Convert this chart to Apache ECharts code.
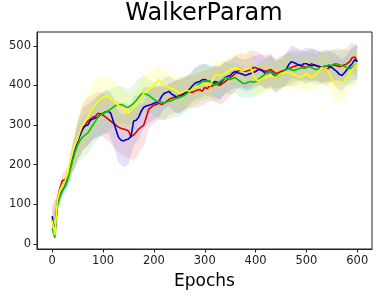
<!DOCTYPE html>
<html><head><meta charset="utf-8">
<script src="https://cdn.jsdelivr.net/npm/echarts@6/dist/echarts.min.js"></script>
<style>html,body{margin:0;padding:0;background:#fff}#c{width:382px;height:298px}</style>
</head><body><div id="c"></div>
<script>
const title = 'WalkerParam';
const xName = 'Epochs';
const xTicks = [0,100,200,300,400,500,600];
const yTicks = [0,100,200,300,400,500];
const seriesNames = ['red','blue','green','yellow'];

// mean curves, one value every 5 epochs (0..600)
const blueVals = [70,22,100,120,135,145,165,190,215,240,260,275,290,298,300,312,315,318,320,328,330,333,335,330,310,290,270,262,260,263,265,272,310,312,320,335,345,348,350,352,355,357,360,372,380,382,385,378,375,368,370,375,380,385,390,398,405,408,410,414,415,412,410,405,410,408,405,412,420,423,425,432,435,432,430,428,425,428,430,432,435,440,440,435,430,432,435,428,420,425,430,435,440,452,460,458,455,452,450,455,455,452,450,452,450,448,445,448,450,448,445,440,435,428,425,432,440,448,455,465,460];
const redVals = [60,28,110,140,160,162,170,195,220,242,260,280,295,300,310,315,320,322,330,328,325,320,315,310,305,300,295,292,290,288,285,270,275,282,290,295,300,320,340,345,350,352,355,352,355,360,365,368,370,372,375,378,380,383,385,382,385,388,390,385,395,392,400,398,405,402,400,405,410,415,420,425,430,436,440,438,435,438,440,445,445,442,440,438,435,438,440,435,430,432,435,438,440,443,445,448,450,452,450,447,445,450,455,452,450,447,445,442,440,445,450,452,450,448,450,452,455,460,470,472,460];
const greenVals = [40,15,95,120,135,145,160,185,210,232,250,262,270,275,280,290,300,310,320,326,330,332,335,340,345,350,350,352,350,345,345,350,355,362,370,378,380,378,375,370,365,360,360,358,355,358,360,362,365,368,370,372,375,380,385,390,395,400,405,410,410,412,410,405,400,405,410,415,420,418,415,418,420,415,410,405,405,408,410,408,410,415,420,425,430,432,435,430,425,428,430,435,440,442,440,438,440,442,445,443,445,448,445,442,440,442,445,448,450,452,450,455,455,452,450,448,445,443,445,450,455];
const yellowVals = [60,22,110,135,150,158,175,205,230,250,265,285,300,310,320,335,345,352,360,366,370,372,372,366,360,355,350,345,340,335,330,338,345,352,360,370,380,385,390,395,400,408,415,408,400,398,395,392,390,385,380,382,385,388,385,390,395,398,400,402,405,402,400,412,425,428,425,428,430,435,440,442,445,442,440,438,440,442,445,430,415,412,415,418,420,422,425,422,420,425,430,432,435,432,430,428,425,422,420,425,430,425,420,425,430,438,445,442,440,430,415,408,405,403,405,412,420,430,440,448,455];

// band half-widths, one value every 10 epochs (0..600)
const redSpread = [25,20,18,22,35,50,58,60,58,55,55,56,60,64,66,68,66,62,55,48,45,42,42,40,40,44,42,40,42,44,42,40,44,48,50,46,44,42,44,48,42,40,42,40,38,40,42,44,40,38,42,40,38,40,42,40,38,40,40,40,38];
const blueSpread = [28,20,18,22,35,48,55,52,50,52,52,55,60,64,66,66,62,56,50,46,42,40,40,38,40,42,40,38,40,42,40,38,40,42,40,38,40,38,40,42,40,38,40,42,40,38,40,42,40,38,40,42,40,38,40,38,42,40,38,42,45];
const greenSpread = [25,18,16,20,32,45,52,52,52,55,55,52,50,48,46,45,46,48,45,42,42,40,42,44,46,48,46,44,45,46,45,42,44,42,40,40,38,40,38,40,38,40,38,40,40,38,40,42,40,38,40,38,40,42,40,38,40,42,44,45,48];
const yellowSpread = [25,20,18,22,38,55,62,62,60,58,55,55,52,50,48,45,42,40,42,44,42,38,36,38,40,40,38,36,38,38,36,35,36,38,36,35,36,38,40,36,35,36,38,36,35,36,38,36,35,36,38,36,35,38,40,45,48,48,44,40,38];

const lineColors = ['#dd0000','#0000d0','#00c800','#ffff00'];
const bandColors = ['rgba(221,0,0,0.11)','rgba(0,0,208,0.11)','rgba(0,200,0,0.11)','rgba(255,255,0,0.15)'];

const vals = [redVals, blueVals, greenVals, yellowVals];
const spreads = [redSpread, blueSpread, greenSpread, yellowSpread];
const epochs = blueVals.map((_, i) => i * 5);

function bandSeries(k) {
  const m = vals[k], s = spreads[k];
  const up = [], lo = [];
  for (let j = 0; j < s.length; j++) {
    const e = j * 10, v = m[j * 2];
    up.push([e, v + s[j]]);
    lo.push([e, v - s[j]]);
  }
  return {
    type: 'custom', silent: true, z: 1,
    data: [0],
    renderItem: function (params, api) {
      const pts = up.concat(lo.slice().reverse()).map(p => api.coord(p));
      return { type: 'polygon', shape: { points: pts }, style: { fill: bandColors[k], stroke: null } };
    }
  };
}

const series = [];
for (let k = 0; k < 4; k++) series.push(bandSeries(k));
for (let k = 0; k < 4; k++) {
  series.push({
    type: 'line', name: seriesNames[k], z: 3 + k, showSymbol: false, animation: false,
    data: vals[k].map((v, i) => [epochs[i], v]),
    lineStyle: { color: lineColors[k], width: 1.6 }
  });
}

const chart = echarts.init(document.getElementById('c'));
chart.setOption({
  animation: false,
  textStyle: { fontFamily: 'DejaVu Sans' },
  title: { text: title, left: 204, top: 2, textAlign: 'center', padding: 0,
    textStyle: { fontFamily: 'DejaVu Sans', fontSize: 24, fontWeight: 'normal', color: '#000' } },
  grid: { left: 37, right: 10, top: 32, bottom: 49, show: true, borderColor: '#222', borderWidth: 1, containLabel: false },
  xAxis: {
    type: 'value', min: -30, max: 629,
    name: xName, nameLocation: 'middle', nameGap: 24,
    nameTextStyle: { fontFamily: 'DejaVu Sans', fontSize: 17, color: '#000' },
    splitLine: { show: false },
    axisLine: { show: true, onZero: false, lineStyle: { color: '#222' } },
    axisTick: { show: true, length: 3.5, customValues: xTicks, lineStyle: { color: '#222' } },
    axisLabel: { customValues: xTicks, fontSize: 11.5, color: '#222', margin: 6, fontFamily: 'DejaVu Sans' }
  },
  yAxis: {
    type: 'value', min: -13, max: 535,
    splitLine: { show: false },
    axisLine: { show: true, onZero: false, lineStyle: { color: '#222' } },
    axisTick: { show: true, length: 3.5, customValues: yTicks, lineStyle: { color: '#222' } },
    axisLabel: { customValues: yTicks, fontSize: 11.5, color: '#222', margin: 6, fontFamily: 'DejaVu Sans' }
  },
  series: series
});
</script></body></html>
